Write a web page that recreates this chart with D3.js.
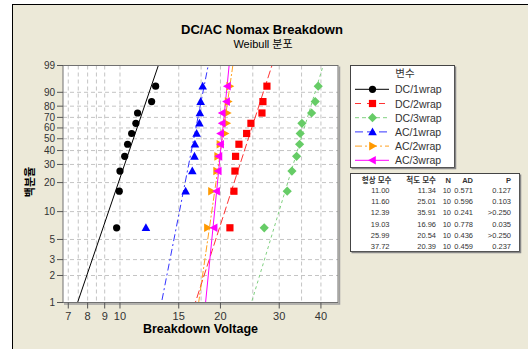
<!DOCTYPE html>
<html>
<head>
<meta charset="utf-8">
<script src="https://cdn.jsdelivr.net/npm/d3@7"></script>
<style>
body { margin: 0; background: #fff; }
svg { display: block; font-family: Arial, "Liberation Sans", "Noto Sans CJK KR", sans-serif; }
</style>
</head>
<body>
<div id="chart"></div>
<script>
// series names and fitted weibull parameters (from the table)
var series = ["DC/1wrap", "DC/2wrap", "DC/3wrap", "AC/1wrap", "AC/2wrap", "AC/3wrap"];
var shapes = [11.00, 11.60, 12.39, 19.03, 25.99, 37.72];
var scales = [11.34, 25.01, 35.91, 16.96, 20.54, 20.39];
var nVals = [10, 10, 10, 10, 10, 10];
var adVals = ["0.571", "0.596", "0.241", "0.778", "0.436", "0.459"];
var pVals = ["0.127", "0.103", ">0.250", "0.035", ">0.250", "0.237"];

// plotting positions (percent) shared by all series
var pctRanks = [6.7, 16.35, 25.96, 35.58, 45.19, 54.81, 64.42, 74.04, 83.65, 93.27];

// breakdown voltages
var dc1 = [9.77, 9.95, 10.0, 10.33, 10.54, 10.84, 11.16, 11.29, 12.44, 12.79];
var dc2 = [21.35, 21.95, 22.1, 22.2, 22.72, 23.96, 24.68, 26.63, 26.81, 27.56];
var dc3 = [27.05, 31.7, 32.75, 33.82, 34.53, 34.67, 35.08, 37.51, 38.46, 39.26];
var ac1 = [11.96, 15.73, 16.47, 16.72, 16.77, 16.97, 17.3, 17.35, 17.45, 17.69];
var ac2 = [18.28, 18.8, 19.48, 19.62, 19.93, 20.63, 20.87, 20.95, 21.09, 21.33];
var ac3 = [19.15, 19.48, 19.7, 19.79, 20.03, 20.03, 20.25, 20.25, 20.87, 20.99];
var values = [dc1, dc2, dc3, ac1, ac2, ac3];

var xTicks = [7, 8, 9, 10, 15, 20, 30, 40];
var xGrid = [7, 7.5, 8, 8.5, 9, 10, 15, 17.5, 20, 25, 30, 35, 40];
var yTicks = [1, 2, 3, 5, 10, 20, 30, 40, 50, 60, 70, 80, 90, 99];

var colors = ["#000000", "#ff0000", "#66cc66", "#0000ff", "#ff9900", "#ff00ff"];
var lineColors = ["#000000", "#ff3333", "#80d080", "#3333ff", "#ffa020", "#ff00ff"];
var dashes = [null, "8,3", "3,3", "7,3,2,3", "7,2,2,2", null];
var legendDashes = [null, "6,6", "4,3", "8,4", "7,3,2,3", null];
var symbols = ["circle", "square", "diamond", "up", "right", "left"];

var width = 528, height = 349;
var pl = 63, pr = 338, pt = 65.5, pb = 302.5;

function wb(p) { return Math.log(-Math.log(1 - p / 100)); }

var svg = d3.select("#chart").append("svg")
	.attr("width", width)
	.attr("height", height);

svg.append("rect")
	.attr("x", 12.5).attr("y", 4.5)
	.attr("width", 540).attr("height", 360)
	.attr("fill", "#ece9d8")
	.attr("stroke", "#000");

svg.append("text")
	.attr("x", 262).attr("y", 34)
	.attr("text-anchor", "middle")
	.attr("font-size", 13).attr("font-weight", "bold")
	.text("DC/AC Nomax Breakdown");
svg.append("text")
	.attr("x", 263).attr("y", 48)
	.attr("text-anchor", "middle")
	.attr("font-size", 11)
	.text("Weibull 분포");

var x = d3.scaleLog().domain([6.75, 45]).range([pl, pr]);
var y = d3.scaleLinear().domain([wb(1), wb(99)]).range([pb, pt]);

// plot area
svg.append("rect")
	.attr("x", pl).attr("y", pt)
	.attr("width", pr - pl).attr("height", pb - pt)
	.attr("fill", "#fff");

var grid = svg.append("g");
grid.selectAll("line.v")
	.data(xGrid)
	.enter().append("line")
	.attr("x1", d => x(d)).attr("x2", d => x(d))
	.attr("y1", pt).attr("y2", pb)
	.attr("stroke", "#c4c4c4").attr("stroke-dasharray", "4,3");
grid.selectAll("line.h")
	.data(yTicks.slice(1, -1))
	.enter().append("line")
	.attr("x1", pl).attr("x2", pr)
	.attr("y1", d => y(wb(d))).attr("y2", d => y(wb(d)))
	.attr("stroke", "#c4c4c4").attr("stroke-dasharray", "4,3");

svg.append("clipPath").attr("id", "clip")
	.append("rect")
	.attr("x", pl).attr("y", pt)
	.attr("width", pr - pl).attr("height", pb - pt);

var lines = svg.append("g").attr("clip-path", "url(#clip)");
var nodes = svg.append("g");

function marker(g, type, color) {
	if (type == "circle") {
		g.append("circle").attr("r", 3.6).attr("fill", color);
	} else if (type == "square") {
		g.append("rect").attr("x", -3.6).attr("y", -3.6).attr("width", 7.2).attr("height", 7.2).attr("fill", color);
	} else if (type == "diamond") {
		g.append("path").attr("d", "M0,-4.6L4.6,0L0,4.6L-4.6,0Z").attr("fill", color);
	} else if (type == "up") {
		g.append("path").attr("d", "M0,-4.5L4.3,3.3L-4.3,3.3Z").attr("fill", color);
	} else if (type == "right") {
		g.append("path").attr("d", "M4.5,0L-3.3,4.3L-3.3,-4.3Z").attr("fill", color);
	} else {
		g.append("path").attr("d", "M-4.5,0L3.3,4.3L3.3,-4.3Z").attr("fill", color);
	}
}

for (var i = 0; i < series.length; i++) {
	// fitted line from the shape / scale parameters
	var ends = [0.5, 99.5].map(function(p) {
		return [scales[i] * Math.exp(wb(p) / shapes[i]), wb(p)];
	});
	lines.append("line")
		.attr("x1", x(ends[0][0])).attr("y1", y(ends[0][1]))
		.attr("x2", x(ends[1][0])).attr("y2", y(ends[1][1]))
		.attr("stroke", lineColors[i])
		.attr("stroke-width", 1)
		.attr("stroke-dasharray", dashes[i]);

	for (var j = 0; j < values[i].length; j++) {
		var g = nodes.append("g")
			.attr("transform", "translate(" + x(values[i][j]) + "," + y(wb(pctRanks[j])) + ")");
		marker(g, symbols[i], colors[i]);
	}
}

// frame
svg.append("rect")
	.attr("x", pl).attr("y", pt)
	.attr("width", pr - pl).attr("height", pb - pt)
	.attr("fill", "none").attr("stroke", "#707070");
svg.append("path")
	.attr("d", "M" + (pr + 1.5) + "," + (pt + 1) + "V" + (pb + 1.5) + "H" + (pl + 1))
	.attr("fill", "none").attr("stroke", "#a0a0a0").attr("stroke-width", 1.5);

// axes
var yAxis = svg.append("g");
yAxis.selectAll("line")
	.data(yTicks).enter().append("line")
	.attr("x1", pl - 6).attr("x2", pl)
	.attr("y1", d => y(wb(d))).attr("y2", d => y(wb(d)))
	.attr("stroke", "#555");
yAxis.selectAll("text")
	.data(yTicks).enter().append("text")
	.attr("x", pl - 8).attr("y", d => y(wb(d)) + 3.5)
	.attr("text-anchor", "end")
	.attr("font-size", 10).attr("fill", "#333")
	.text(d => d);

var xAxis = svg.append("g");
xAxis.selectAll("line")
	.data(xTicks).enter().append("line")
	.attr("x1", d => x(d)).attr("x2", d => x(d))
	.attr("y1", pb).attr("y2", pb + 6)
	.attr("stroke", "#555");
xAxis.selectAll("text")
	.data(xTicks).enter().append("text")
	.attr("x", d => x(d)).attr("y", pb + 17)
	.attr("text-anchor", "middle")
	.attr("font-size", 11).attr("fill", "#333")
	.text(d => d);

svg.append("text")
	.attr("x", (pl + pr) / 2).attr("y", 333)
	.attr("text-anchor", "middle")
	.attr("font-size", 12.5).attr("font-weight", "bold")
	.text("Breakdown Voltage");
svg.append("text")
	.attr("transform", "translate(34,182) rotate(-90)")
	.attr("text-anchor", "middle")
	.attr("font-size", 11).attr("font-weight", "bold")
	.text("백분율");

// legend
var lg = svg.append("g");
lg.append("rect")
	.attr("x", 350.5).attr("y", 65.5).attr("width", 104).attr("height", 102)
	.attr("fill", "#fff").attr("stroke", "#444");
lg.append("path")
	.attr("d", "M455.5,66.5V168.5H351.5")
	.attr("fill", "none").attr("stroke", "#888").attr("stroke-width", 1.5);
lg.append("text")
	.attr("x", 405).attr("y", 77)
	.attr("text-anchor", "middle").attr("font-size", 10.5).attr("fill", "#333")
	.text("변수");
series.forEach(function(name, i) {
	var yy = 89.3 + i * 14.2;
	lg.append("line")
		.attr("x1", 355).attr("x2", 389)
		.attr("y1", yy).attr("y2", yy)
		.attr("stroke", lineColors[i])
		.attr("stroke-dasharray", legendDashes[i]);
	var g = lg.append("g").attr("transform", "translate(372.5," + yy + ")");
	marker(g, symbols[i], colors[i]);
	lg.append("text")
		.attr("x", 395).attr("y", yy + 4)
		.attr("font-size", 10.5).attr("fill", "#333")
		.text(name);
});

// parameter table
var tb = svg.append("g");
tb.append("rect")
	.attr("x", 350.5).attr("y", 173.5).attr("width", 169).attr("height", 78)
	.attr("fill", "#fff").attr("stroke", "#444");
tb.append("path")
	.attr("d", "M520.5,174.5V252.5H351.5")
	.attr("fill", "none").attr("stroke", "#888").attr("stroke-width", 1.5);
var headers = ["형상 모수", "척도 모수", "N", "AD", "P"];
var colX = [391.5, 436, 451, 473, 511];
headers.forEach(function(h, k) {
	tb.append("text")
		.attr("x", colX[k]).attr("y", 183)
		.attr("text-anchor", "end").attr("font-size", 7.5).attr("font-weight", "bold").attr("fill", "#333")
		.text(h);
});
series.forEach(function(name, i) {
	var row = [shapes[i].toFixed(2), scales[i].toFixed(2), nVals[i], adVals[i], pVals[i]];
	row.forEach(function(v, k) {
		tb.append("text")
			.attr("x", colX[k] - (k == 0 ? 2 : 0)).attr("y", 193 + i * 11.2)
			.attr("text-anchor", "end").attr("font-size", 7.5).attr("fill", "#333")
			.text(v);
	});
});
</script>
</body>
</html>
